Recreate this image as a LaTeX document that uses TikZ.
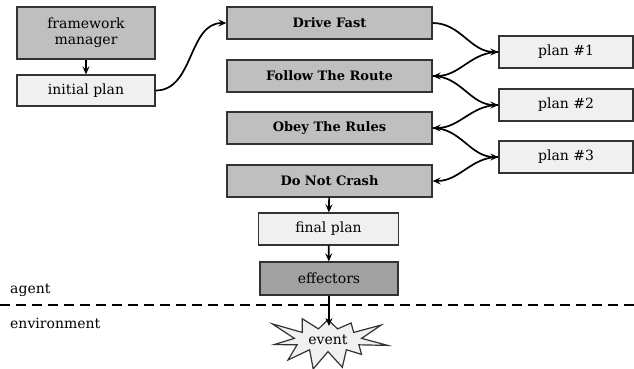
\documentclass[tikz,border=0pt]{standalone}
\usepackage{fontspec}
\setmainfont{DejaVu Serif}
\usetikzlibrary{arrows.meta,shapes.symbols}
\begin{document}
\begin{tikzpicture}[x=1pt,y=-1pt,
  box/.style={draw=black!80, line width=1.3pt, inner sep=0pt,
    minimum height=32pt, align=center, font=\rmfamily\fontsize{14}{16}\selectfont},
  lightbox/.style={box, fill=black!6},
  goalbox/.style={box, fill=black!25, minimum width=205pt,
    font=\rmfamily\fontsize{13}{15}\selectfont\bfseries},
  darkbox/.style={box, fill=black!37},
  planbox/.style={lightbox, minimum width=134pt},
  link/.style={line width=1.7pt, -{Stealth[length=8pt,width=7pt,inset=3pt]}},
  label/.style={anchor=west, inner sep=0pt, font=\rmfamily\fontsize{14}{16}\selectfont}]
\useasboundingbox (0,0) rectangle (634,368);

% framework side
\node[box, fill=black!25, minimum width=138pt, minimum height=52pt] (fm) at (86,33) {framework\\manager};
\node[lightbox, minimum width=138pt, minimum height=31pt] (ip) at (86,90.5) {initial plan};

% goals
\node[goalbox] (df) at (329.5,23) {Drive Fast};
\node[goalbox] (fr) at (329.5,76) {Follow The Route};
\node[goalbox] (ob) at (329.5,128) {Obey The Rules};
\node[goalbox] (dn) at (329.5,181) {Do Not Crash};

% plans
\node[planbox] (p1) at (566,52) {plan \#1};
\node[planbox] (p2) at (566,105) {plan \#2};
\node[planbox] (p3) at (566,157) {plan \#3};

% output chain
\node[lightbox, minimum width=140pt] (fp) at (328.5,229) {final plan};
\node[darkbox, minimum width=138pt, minimum height=33pt] (ef) at (329,278.5) {effectors};

% agent / environment boundary
\coordinate (bl) at (0,305);
\coordinate (br) at (634,305);
\draw[line width=1.6pt, dash pattern=on 10pt off 6pt] (bl) -- (br);
\node[label] (ag) at (10,290) {agent};
\node[label] (env) at (10,323) {environment};

\node[starburst, draw=black!80, fill=black!6, line width=1.2pt,
  minimum width=124pt, minimum height=60pt, starburst points=11,
  starburst point height=28pt, random starburst=3,
  font=\rmfamily\fontsize{14}{16}\selectfont] (ev) at (328,340) {event};
\coordinate (evtop) at (329,326);

% connectors
\draw[link] (fm) -- (ip);
\draw[link] (ip.east) to[out=0,in=180] (df.west);
\draw[link] (df.east) to[out=0,in=180] (p1.west);
\draw[link] (p1.west) to[out=180,in=0] (fr.east);
\draw[link] (fr.east) to[out=0,in=180] (p2.west);
\draw[link] (p2.west) to[out=180,in=0] (ob.east);
\draw[link] (ob.east) to[out=0,in=180] (p3.west);
\draw[link] (p3.west) to[out=180,in=0] (dn.east);
\draw[link] (dn) -- (fp);
\draw[link] (fp) -- (ef);
\draw[link] (ef) -- (evtop);
\end{tikzpicture}
\end{document}
